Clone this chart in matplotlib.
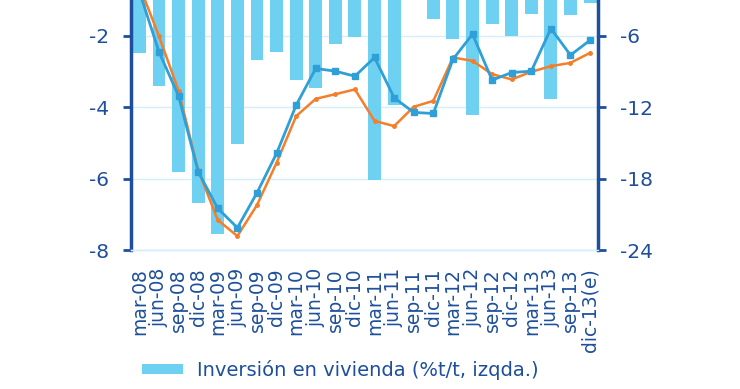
import matplotlib
matplotlib.use("Agg")
import matplotlib.pyplot as plt
from matplotlib.patches import Patch

# Data (quarters mar-08 .. dic-13(e))

quarters = ["mar-08", "jun-08", "sep-08", "dic-08", "mar-09", "jun-09", "sep-09", "dic-09",
            "mar-10", "jun-10", "sep-10", "dic-10", "mar-11", "jun-11", "sep-11", "dic-11",
            "mar-12", "jun-12", "sep-12", "dic-12", "mar-13", "jun-13", "sep-13", "dic-13(e)"]

# housing investment, %t/t (left axis)
inversion = [-2.48, -3.40, -5.81, -6.67, -7.55, -5.03, -2.67, -2.47,
             -3.24, -3.46, -2.22, -2.04, -6.04, -3.93, -0.85, -1.52,
             -2.10, -4.22, -1.66, -2.01, -1.38, -3.78, -1.41, -1.08]

# right-axis series (blue with squares, orange with dots)
serie_azul = [-2.3, -7.36, -11.07, -17.42, -20.5, -22.12, -19.19, -15.88,
              -11.83, -8.75, -8.98, -9.40, -7.83, -11.21, -12.44, -12.53,
              -7.99, -5.87, -9.73, -9.09, -8.98, -5.40, -7.63, -6.38]
serie_naranja = [-1.8, -6.04, -10.63, -17.28, -21.48, -22.82, -20.22, -16.67,
                 -12.75, -11.30, -10.91, -10.51, -13.15, -13.59, -11.97, -11.47,
                 -7.83, -8.11, -9.23, -9.67, -9.03, -8.56, -8.28, -7.44]

left_ticks = [-8, -6, -4, -2]
right_ticks = [-24, -18, -12, -6]

# Style

dark = "#1d4f9c"
bar_color = "#6fd1f1"
blue = "#2f9fd8"
orange = "#f47e2a"
grid_color = "#d6eefa"

plt.rcParams["font.family"] = "DejaVu Sans"
plt.rcParams["axes.unicode_minus"] = False

fig = plt.figure(figsize=(7.4, 3.89), dpi=100)
ax = fig.add_axes([0.177, 0.357, 0.631, 0.735])
ax2 = ax.twinx()

x = list(range(len(quarters)))

ax.bar(x, inversion, width=0.66, color=bar_color, zorder=2)
ax.set_ylim(-8, 0)
ax.set_yticks(left_ticks)
ax.set_xlim(-0.43, 23.4)
ax.yaxis.grid(True, color=grid_color, linewidth=1, zorder=0)
ax.set_axisbelow(True)

ax2.plot(x, serie_naranja, color=orange, linewidth=1.8, marker="o", markersize=2.5, zorder=3)
ax2.plot(x, serie_azul, color=blue, linewidth=2.0, marker="s", markersize=4.5, zorder=4)
ax2.set_ylim(-24, 0)
ax2.set_yticks(right_ticks)

for a in (ax, ax2):
    a.spines["top"].set_visible(False)
    a.spines["bottom"].set_color(grid_color)
    a.spines["bottom"].set_linewidth(1)
    a.spines["left"].set_visible(False)
    a.spines["right"].set_visible(False)

ax.spines["left"].set_visible(True)
ax.spines["left"].set_color(dark)
ax.spines["left"].set_linewidth(2.5)
ax2.spines["right"].set_visible(True)
ax2.spines["right"].set_color(dark)
ax2.spines["right"].set_linewidth(2.5)

ax.tick_params(axis="y", colors=dark, labelsize=14.5, length=6, width=2, pad=10)
ax2.tick_params(axis="y", colors=dark, labelsize=14.5, length=6, width=2, pad=10)

ax.set_xticks(x)
ax.set_xticklabels(quarters, rotation=90, color=dark, fontsize=13.5)
ax.tick_params(axis="x", length=0, pad=13)

legend_handle = Patch(facecolor=bar_color, edgecolor="none")
fig.legend(handles=[legend_handle], labels=["Inversión en vivienda (%t/t, izqda.)"],
           loc="center left", bbox_to_anchor=(0.168, 0.049), frameon=False,
           fontsize=14, labelcolor=dark, handlelength=2.1, handleheight=0.45,
           handletextpad=0.75)

fig.savefig("out.png", dpi=100)
